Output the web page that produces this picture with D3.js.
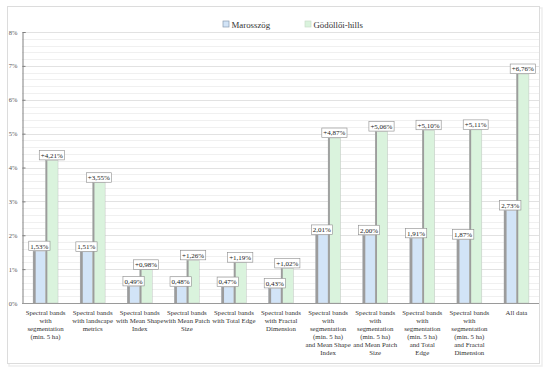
<!DOCTYPE html>
<html>
<head>
<meta charset="utf-8">
<script src="https://cdn.jsdelivr.net/npm/d3@7"></script>
<style>
  body { margin: 0; background: #fff; }
  svg { display: block; font-family: "Liberation Serif", "DejaVu Serif", serif; }
</style>
</head>
<body>
<div id="chart"></div>
<script>
// data
const categories = [
  ["Spectral bands", "with", "segmentation", "(min. 5 ha)"],
  ["Spectral bands", "with landscape", "metrics"],
  ["Spectral bands", "with Mean Shape", "Index"],
  ["Spectral bands", "with Mean Patch", "Size"],
  ["Spectral bands", "with Total Edge"],
  ["Spectral bands", "with Fractal", "Dimension"],
  ["Spectral bands", "with", "segmentation", "(min. 5 ha)", "and Mean Shape", "Index"],
  ["Spectral bands", "with", "segmentation", "(min. 5 ha)", "and Mean Patch", "Size"],
  ["Spectral bands", "with", "segmentation", "(min. 5 ha)", "and Total", "Edge"],
  ["Spectral bands", "with", "segmentation", "(min. 5 ha)", "and Fractal", "Dimension"],
  ["All data"]
];
const seriesNames = ["Marosszög", "Gödöllői-hills"];
const marosszog = [1.53, 1.51, 0.49, 0.48, 0.47, 0.43, 2.01, 2.00, 1.91, 1.87, 2.73];
const godollo = [4.21, 3.55, 0.98, 1.26, 1.19, 1.02, 4.87, 5.06, 5.10, 5.11, 6.76];
const yTicks = [0, 1, 2, 3, 4, 5, 6, 7, 8];

const width = 550, height = 374;
const margin = { top: 32, right: 10, bottom: 71, left: 22 };
const colors = ["#d2e4f7", "#daf3dd"];
const edge = "#9c9c9c";

const loc = d3.formatLocale({ decimal: ",", thousands: " ", grouping: [3], currency: ["", ""] });
const fmt = loc.format(".2f");

const svg = d3.select("#chart")
  .append("svg")
    .attr("width", width)
    .attr("height", height);

// outer frame with a soft shadow
svg.append("rect")
  .attr("x", 9).attr("y", 8).attr("width", 533).attr("height", 358)
  .attr("fill", "none").attr("stroke", "#eeeeee").attr("stroke-width", 1.5);
svg.append("rect")
  .attr("x", 7.5).attr("y", 6.5).attr("width", 532).attr("height", 357)
  .attr("fill", "#fff").attr("stroke", "#dcdcdc");

const x0 = d3.scaleBand()
  .domain(d3.range(categories.length))
  .range([margin.left, width - margin.right])
  .paddingInner(0.47)
  .paddingOuter(0.235);

const x1 = d3.scaleBand()
  .domain(seriesNames)
  .range([0, x0.bandwidth()]);

const y = d3.scaleLinear()
  .domain([0, 8])
  .range([height - margin.bottom, margin.top]);

const plotRight = width - margin.right - 1;

// minor grid
svg.append("g")
  .selectAll("line")
  .data(d3.range(0.2, 8.01, 0.2).filter(v => Math.abs(v - Math.round(v)) > 0.01))
  .join("line")
    .attr("x1", margin.left).attr("x2", plotRight)
    .attr("y1", d => Math.round(y(d)) + 0.5).attr("y2", d => Math.round(y(d)) + 0.5)
    .attr("stroke", "#f0f0f0");

// major grid
svg.append("g")
  .selectAll("line")
  .data(yTicks.slice(1))
  .join("line")
    .attr("x1", margin.left).attr("x2", plotRight)
    .attr("y1", d => Math.round(y(d)) + 0.5).attr("y2", d => Math.round(y(d)) + 0.5)
    .attr("stroke", "#e2e2e2");

// y axis
const yAxis = svg.append("g")
  .attr("transform", `translate(${margin.left + 0.5},0)`)
  .call(d3.axisLeft(y).tickValues(yTicks).tickFormat(d => d + "%").tickSize(-3).tickPadding(5));
yAxis.select(".domain").attr("stroke", "#808080");
yAxis.selectAll(".tick line").attr("stroke", "#808080");
yAxis.selectAll(".tick text")
  .attr("fill", "#555")
  .style("font-family", "Liberation Serif, serif")
  .style("font-size", "6.5px");

// bars
const rows = categories.map((c, i) => ({ i, values: [marosszog[i], godollo[i]] }));
const flat = rows.flatMap(r => r.values.map((v, k) => ({ i: r.i, v, k })));
const bx = d => x0(d.i) + x1(seriesNames[d.k]);

const barLayer = svg.append("g");

barLayer.selectAll("rect.bar")
  .data(flat)
  .join("rect")
    .attr("class", "bar")
    .attr("x", bx)
    .attr("y", d => y(d.v))
    .attr("width", x1.bandwidth())
    .attr("height", d => y(0) - y(d.v))
    .attr("fill", d => colors[d.k])
    .attr("stroke", "#b8b8b8")
    .attr("stroke-width", 0.4);

barLayer.selectAll("rect.edge")
  .data(flat)
  .join("rect")
    .attr("class", "edge")
    .attr("x", bx)
    .attr("y", d => y(d.v))
    .attr("width", d => d.k === 0 ? 2.6 : 1.8)
    .attr("height", d => y(0) - y(d.v))
    .attr("fill", edge);

// x axis baseline
svg.append("line")
  .attr("x1", margin.left).attr("x2", plotRight)
  .attr("y1", y(0) + 0.5).attr("y2", y(0) + 0.5)
  .attr("stroke", "#9a9a9a");

// value labels, drawn above every bar
const labels = svg.append("g")
  .selectAll("g")
  .data(flat)
  .join("g")
    .attr("transform", d => `translate(${bx(d) + x1.bandwidth() / 2},${y(d.v)})`);

labels.append("text")
  .attr("y", -2.6)
  .attr("text-anchor", "middle")
  .attr("fill", "#222")
  .style("font-size", "7px")
  .text(d => (d.k === 1 ? "+" : "") + fmt(d.v) + "%");

labels.each(function() {
  const g = d3.select(this);
  const b = g.select("text").node().getBBox();
  g.insert("rect", "text")
    .attr("x", b.x - 1.5)
    .attr("y", -10)
    .attr("width", b.width + 3)
    .attr("height", 9.5)
    .attr("fill", "#fff")
    .attr("stroke", "#8c8c8c")
    .attr("stroke-width", 0.6);
});

// category labels
svg.append("g")
  .selectAll("text")
  .data(categories)
  .join("text")
    .attr("x", (d, i) => x0(i) + x0.bandwidth() / 2)
    .attr("y", 315)
    .attr("text-anchor", "middle")
    .attr("fill", "#333")
    .style("font-size", "6.8px")
  .selectAll("tspan")
  .data(d => d)
  .join("tspan")
    .attr("x", function() { return d3.select(this.parentNode).attr("x"); })
    .attr("dy", (d, j) => j === 0 ? 0 : 8)
    .text(d => d);

// legend
const legendX = [223, 305];
const legend = svg.append("g")
  .selectAll("g")
  .data(seriesNames)
  .join("g")
    .attr("transform", (d, i) => `translate(${legendX[i]},21)`);

legend.append("rect")
  .attr("width", 6).attr("height", 6)
  .attr("fill", (d, i) => colors[i])
  .attr("stroke", (d, i) => i === 0 ? "#8a9bb0" : "#c9dcc9")
  .attr("stroke-width", 0.7);

legend.append("text")
  .attr("x", 8.5)
  .attr("y", 6.5)
  .attr("fill", "#333")
  .style("font-size", "8.8px")
  .text(d => d);
</script>
</body>
</html>
